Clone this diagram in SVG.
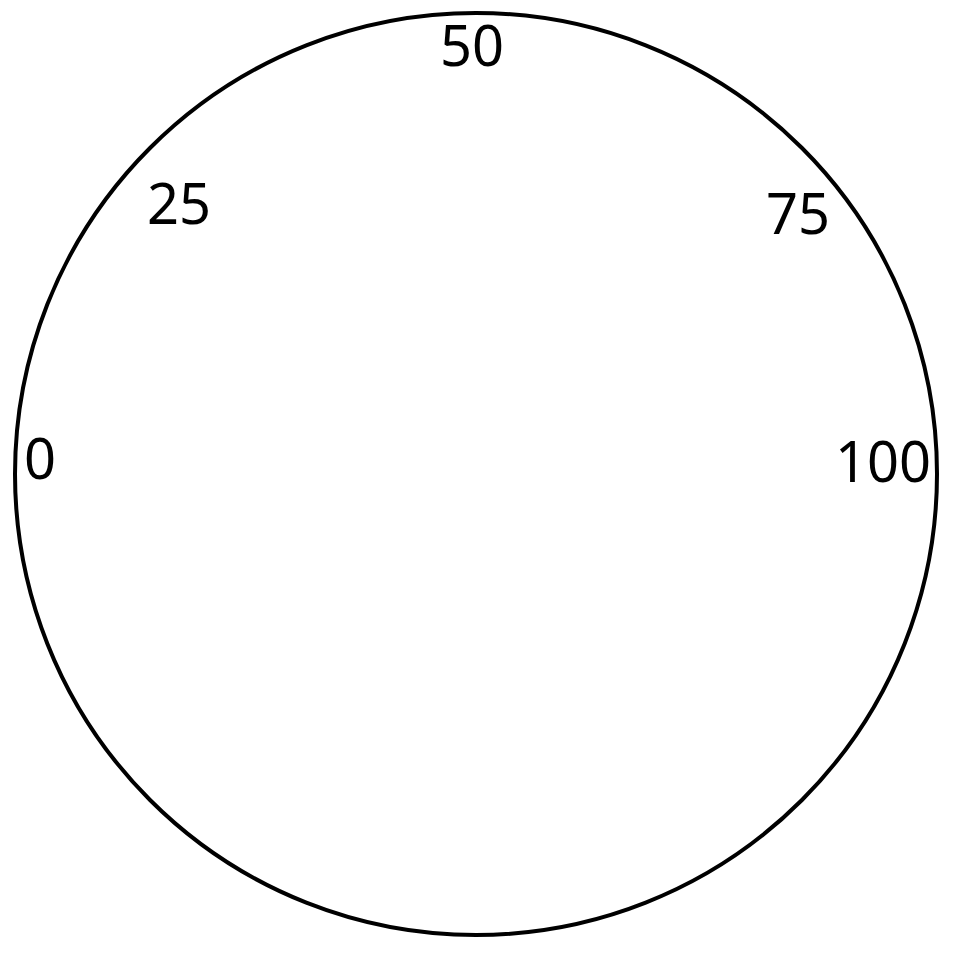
<svg xmlns="http://www.w3.org/2000/svg" width="960" height="960" viewBox="0 0 960 960">
<style>
.lbl{font-family:"Noto Sans","Open Sans",sans-serif;font-size:56px;fill:#000}
</style>
<rect width="960" height="960" fill="#fff"/>
<g id="dial">
<circle cx="476" cy="474" r="461" fill="none" stroke="#000" stroke-width="4"/>
</g>
<g id="labels">
<text class="lbl" x="472" y="66" text-anchor="middle">50</text>
<text class="lbl" x="179" y="224" text-anchor="middle">25</text>
<text class="lbl" x="798" y="234" text-anchor="middle">75</text>
<text class="lbl" x="40" y="479" text-anchor="middle">0</text>
<text class="lbl" x="883" y="482" text-anchor="middle">100</text>
</g>
</svg>
